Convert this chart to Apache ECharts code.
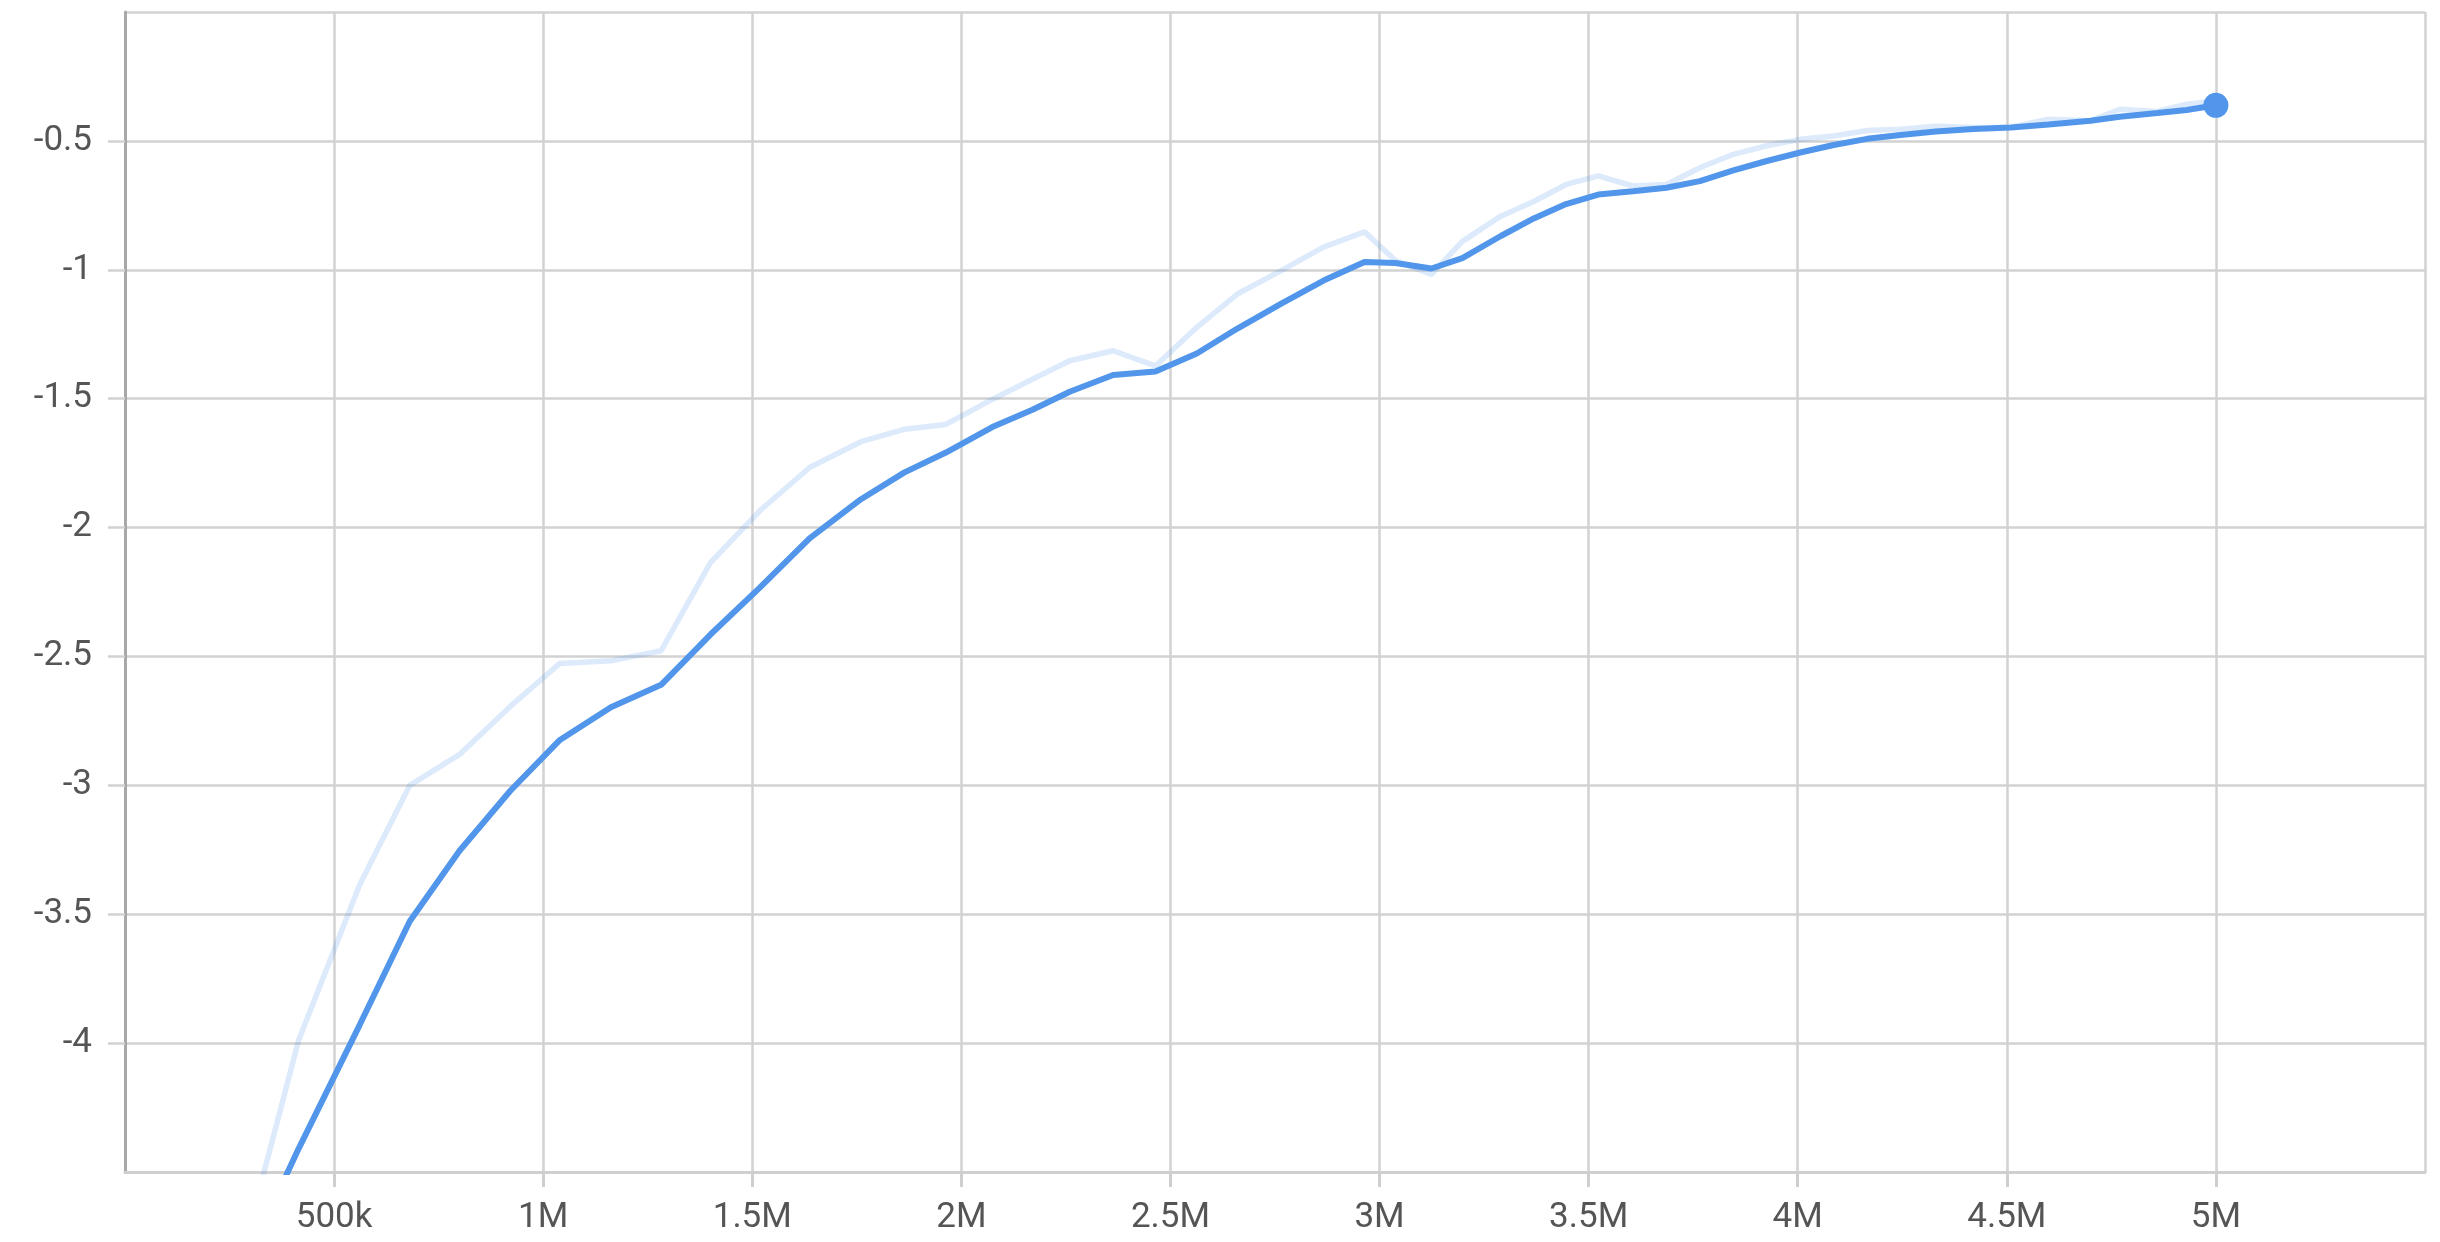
<!DOCTYPE html>
<html>
<head>
<meta charset="utf-8">
<script src="https://cdn.jsdelivr.net/npm/echarts@6/dist/echarts.min.js"></script>
<style>
html,body{margin:0;padding:0;background:#fff;}
#chart{width:2440px;height:1242px;}
</style>
</head>
<body>
<div id="chart"></div>
<script>
// Training steps (x values)
var steps = [260000, 415000, 561000, 681000, 800000, 922000, 1040000, 1162000, 1282000,
  1400000, 1518000, 1637000, 1760000, 1863000, 1963000, 2074000, 2170000, 2259000,
  2363000, 2464000, 2563000, 2660000, 2765000, 2866000, 2964000, 3038000, 3124000,
  3198000, 3290000, 3370000, 3446000, 3523000, 3606000, 3686000, 3766000, 3846000,
  3926000, 4006000, 4086000, 4166000, 4246000, 4330000, 4420000, 4510000, 4600000,
  4700000, 4770000, 4860000, 4930000, 5000000];

// Raw values (light line)
var rawValues = [-4.95, -3.99, -3.387, -3.0, -2.88, -2.693, -2.527, -2.517, -2.478,
  -2.136, -1.935, -1.767, -1.667, -1.619, -1.60, -1.503, -1.425, -1.353,
  -1.314, -1.373, -1.223, -1.094, -1.003, -0.912, -0.853, -0.964, -1.018,
  -0.890, -0.792, -0.734, -0.669, -0.636, -0.675, -0.669, -0.604, -0.552,
  -0.519, -0.494, -0.481, -0.460, -0.455, -0.443, -0.448, -0.447, -0.416,
  -0.422, -0.377, -0.386, -0.358, -0.345];

// Smoothed values (dark line)
var smoothedValues = [-4.95, -4.41, -3.93, -3.527, -3.254, -3.02, -2.824, -2.697, -2.61,
  -2.415, -2.233, -2.042, -1.89, -1.787, -1.709, -1.61, -1.543, -1.473,
  -1.408, -1.395, -1.325, -1.228, -1.131, -1.042, -0.970, -0.974, -0.995,
  -0.955, -0.869, -0.80, -0.745, -0.708, -0.695, -0.682, -0.656, -0.614,
  -0.578, -0.545, -0.516, -0.492, -0.477, -0.464, -0.454, -0.448, -0.436,
  -0.422, -0.406, -0.392, -0.380, -0.362];

// Axis ranges / ticks
var xMin = 0, xMax = 5500000, xInterval = 500000;
var yMin = -4.5, yMax = 0, yInterval = 0.5;

function pairs(xs, ys) { return xs.map(function (x, i) { return [x, ys[i]]; }); }
function fmtStep(v) {
  if (v >= 1000000) return (v / 1000000) + 'M';
  if (v >= 1000) return (v / 1000) + 'k';
  return String(v);
}

var lineColor = '#5196ea';
var labelStyle = { fontFamily: 'Roboto', fontSize: 35, color: '#555' };

var chart = echarts.init(document.getElementById('chart'), null, { renderer: 'canvas' });
chart.setOption({
  animation: false,
  backgroundColor: '#fff',
  grid: { left: 125, right: 15, top: 12, bottom: 70, containLabel: false },
  xAxis: {
    type: 'value', min: xMin, max: xMax, interval: xInterval,
    axisLine: { show: true, onZero: false, lineStyle: { color: '#cfcfcf', width: 3 } },
    axisTick: { show: true, length: 15, lineStyle: { color: '#cfcfcf', width: 3 } },
    splitLine: { show: true, lineStyle: { color: '#d2d2d2', width: 2.5 } },
    axisLabel: Object.assign({ margin: 29, showMinLabel: false, showMaxLabel: false, formatter: fmtStep }, labelStyle)
  },
  yAxis: {
    type: 'value', min: yMin, max: yMax, interval: yInterval,
    axisLine: { show: true, onZero: false, lineStyle: { color: '#a8a8a8', width: 3 } },
    axisTick: { show: true, length: 17, lineStyle: { color: '#d2d2d2', width: 2.5 } },
    splitLine: { show: true, lineStyle: { color: '#d2d2d2', width: 2.5 } },
    axisLabel: Object.assign({ margin: 33, showMinLabel: false, showMaxLabel: false }, labelStyle)
  },
  series: [
    {
      type: 'line', data: pairs(steps, rawValues), showSymbol: false, symbol: 'none',
      lineStyle: { color: lineColor, width: 5.5, opacity: 0.2 }, clip: true, z: 2
    },
    {
      type: 'line', data: pairs(steps, smoothedValues), showSymbol: false, symbol: 'none',
      lineStyle: { color: lineColor, width: 6 }, clip: true, z: 3
    },
    {
      type: 'scatter', data: [[steps[steps.length - 1], smoothedValues[smoothedValues.length - 1]]],
      symbol: 'circle', symbolSize: 25, itemStyle: { color: lineColor, opacity: 1 }, z: 4
    }
  ]
});
</script>
</body>
</html>
